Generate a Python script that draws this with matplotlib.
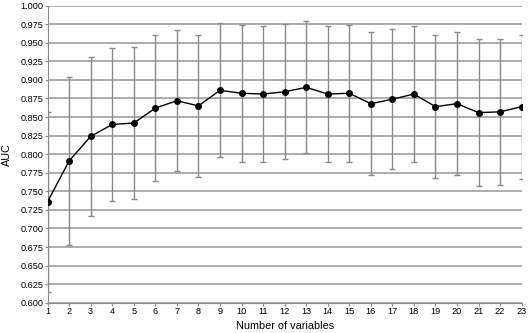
import numpy as np
import matplotlib
matplotlib.use("Agg")
from matplotlib import pyplot as plt

plt.rcParams['font.family'] = ['Liberation Sans', 'DejaVu Sans']

n_vars = list(range(1, 24))
auc_mean = [0.736, 0.791, 0.824, 0.840, 0.842, 0.862, 0.872, 0.865, 0.886, 0.882, 0.881, 0.884,
            0.890, 0.881, 0.882, 0.868, 0.874, 0.881, 0.864, 0.868, 0.856, 0.857, 0.864]
auc_sd = [0.121, 0.113, 0.107, 0.103, 0.103, 0.098, 0.095, 0.096, 0.090, 0.092, 0.092, 0.091,
          0.089, 0.092, 0.092, 0.096, 0.094, 0.092, 0.096, 0.096, 0.099, 0.098, 0.097]
y_ticks = np.arange(0.600, 1.0001, 0.025)

fig = plt.figure(figsize=(5.29, 3.33), dpi=100)
ax = fig.add_axes([0.090, 0.091, 0.896, 0.892])

# grey error bars behind the mean line
ax.errorbar(n_vars, auc_mean, yerr=auc_sd, fmt='none', ecolor='#8a8a8a', elinewidth=1.0,
            capsize=2.5, capthick=1.0, zorder=2)
ax.plot(n_vars, auc_mean, color='black', lw=1.0, marker='o', ms=4, zorder=3)

ax.set_xlim(1, 23)
ax.set_ylim(0.600, 1.000)
ax.set_xticks(n_vars)
ax.set_yticks(y_ticks)
ax.set_yticklabels(['%.3f' % v for v in y_ticks])
ax.yaxis.grid(True, color='#969696', lw=1.1)
ax.set_axisbelow(True)
for s in ['top', 'right']:
    ax.spines[s].set_visible(False)
for s in ['left', 'bottom']:
    ax.spines[s].set_color('#8a8a8a')
ax.tick_params(labelsize=6.6, length=2, color='#8a8a8a', pad=1)
ax.set_xlabel('Number of variables', fontsize=7.8, labelpad=4)
ax.set_ylabel('AUC', fontsize=7.8, labelpad=6)

fig.savefig('out.png', dpi=100)
